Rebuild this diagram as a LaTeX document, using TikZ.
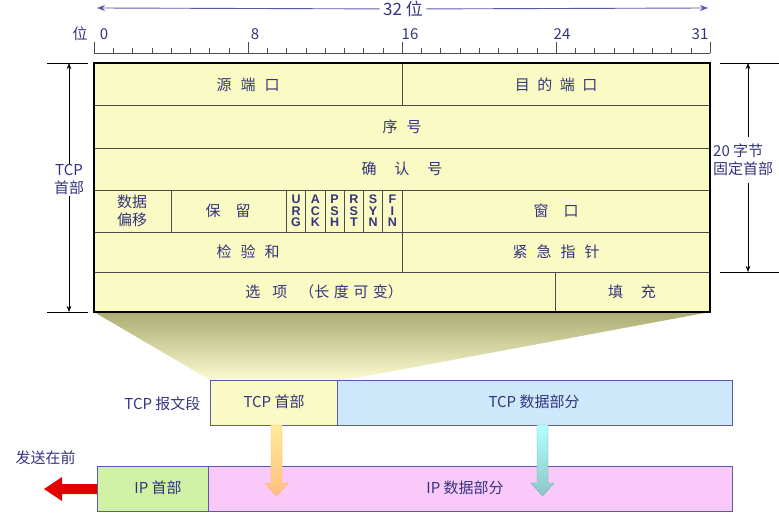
\documentclass[tikz,border=0pt]{standalone}
\usepackage{fontspec}
\setmainfont{Noto Sans CJK SC}
\newfontfamily\flagfont{Liberation Sans}
\usetikzlibrary{arrows.meta}
\definecolor{tx}{HTML}{34347E}
\definecolor{yel}{HTML}{FAFAC4}
\definecolor{bl}{HTML}{CDE8FA}
\definecolor{gr}{HTML}{CFF2A6}
\definecolor{pk}{HTML}{F9C9F9}
\definecolor{bd}{HTML}{5A5AAA}
\begin{document}
\begin{tikzpicture}[x=1pt,y=-1pt,
  lbl/.style={text=tx,font=\fontsize{15}{18}\selectfont},
  fl/.style={text=tx,font=\flagfont\bfseries\fontsize{12.5}{11.5}\selectfont,align=center,inner sep=0pt},
  cell/.style={draw=black!70,line width=0.6pt},
  seg/.style={draw=bd,line width=0.9pt},
  dim/.style={draw=black,line width=0.5pt}]
\useasboundingbox (0,0) rectangle (779,526);
% trapezoid
\shade[top color=yellow!40!black!55,bottom color=yel!80] (94,312) -- (710,312) -- (345,380) -- (210,380) -- cycle;
% main table
\fill[yel] (94,63) rectangle (710,312);
\foreach \y in {105,148,190,232,272} \draw[cell] (94,\y) -- (710,\y);
\draw[cell] (402,63) -- (402,105);
\draw[cell] (402,190) -- (402,272);
\draw[cell] (171,190) -- (171,232);
\foreach \x in {286.5,305.75,325,344.25,363.5,382.75} \draw[cell] (\x,190) -- (\x,232);
\draw[cell] (555,272) -- (555,312);
\draw[line width=1.6pt] (94,63) rectangle (710,312);
\node[lbl] (src) at (248,85) {源\hspace{0.6em}端\hspace{0.6em}口};
\node[lbl] (dst) at (556,85) {目\hspace{0.5em}的\hspace{0.5em}端\hspace{0.5em}口};
\node[lbl] (seq) at (402,127) {序\hspace{0.6em}号};
\node[lbl] (ack) at (402,169) {确\hspace{1.2em}认\hspace{1.2em}号};
\node[lbl,align=center,font=\fontsize{15}{18}\selectfont] (off) at (132,211) {数据\\偏移};
\node[lbl] (res) at (228,211) {保\hspace{1em}留};
\node[fl] (f1) at (296.1,211) {U\\R\\G};
\node[fl] (f2) at (315.4,211) {A\\C\\K};
\node[fl] (f3) at (334.6,211) {P\\S\\H};
\node[fl] (f4) at (353.9,211) {R\\S\\T};
\node[fl] (f5) at (373.1,211) {S\\Y\\N};
\node[fl] (f6) at (392.4,211) {F\\I\\N};
\node[lbl] (win) at (556,211) {窗\hspace{1em}口};
\node[lbl] (chk) at (248,252) {检\hspace{0.6em}验\hspace{0.6em}和};
\node[lbl] (urg) at (556,252) {紧\hspace{0.6em}急\hspace{0.6em}指\hspace{0.6em}针};
\node[lbl] (opt) at (324,292) {选\hspace{0.8em}项\hspace{0.8em}（长\hspace{0.3em}度\hspace{0.3em}可\hspace{0.3em}变）};
\node[lbl] (pad) at (632,292) {填\hspace{1.2em}充};
% ruler
\draw[black!70,line width=0.6pt] (94,53) -- (710,53);
\foreach \i in {0,...,32} \draw[black!70] ({94+\i*19.25},53) -- ({94+\i*19.25},48);
\foreach \i in {0,8,16,24,32} \draw[black!70] ({94+\i*19.25},53) -- ({94+\i*19.25},42);
\node[lbl] (wei) at (80,34) {位};
\node[lbl] (b0) at (104,34) {0};
\node[lbl] (b8) at (255,34) {8};
\node[lbl] (b16) at (410,34) {16};
\node[lbl] (b24) at (562,34) {24};
\node[lbl] (b31) at (700,34) {31};
\node[lbl,font=\fontsize{17}{19}\selectfont] (w32) at (403,9) {32 位};
\coordinate (la) at (97,8); \coordinate (ra) at (708,8);
\draw[bd,line width=0.9pt,-{Stealth[length=8pt]}] (w32) -- (ra);
\draw[bd,line width=0.9pt,-{Stealth[length=8pt]}] (w32) -- (la);
% left dimension
\draw[dim] (47,63) -- (88,63); \draw[dim] (47,312) -- (88,312);
\node[lbl,align=center,fill=white,inner sep=1pt] (tcph) at (69,180) {TCP\\首部};
\coordinate (lt) at (69,63); \coordinate (lb) at (69,312);
\draw[dim,-{Stealth[length=6pt]}] (tcph) -- (lt);
\draw[dim,-{Stealth[length=6pt]}] (tcph) -- (lb);
% right dimension
\draw[dim] (720,63) -- (779,63); \draw[dim] (720,272) -- (779,272);
\node[lbl,align=left,fill=white,inner sep=1pt,anchor=west] (twenty) at (712,160) {20 字节\\固定首部};
\coordinate (rt) at (748,63); \coordinate (rb) at (748,272);
\draw[dim,-{Stealth[length=6pt]}] (748,137) -- (rt);
\draw[dim,-{Stealth[length=6pt]}] (748,183) -- (rb);
% TCP segment
\node[lbl,anchor=east] (tcpseg) at (204,404) {TCP 报文段};
\filldraw[seg,fill=yel] (210,380) rectangle (337,425);
\filldraw[seg,fill=bl] (337,380) rectangle (732,425);
\node[lbl] (th) at (274,402) {TCP 首部};
\node[lbl] (td) at (534,402) {TCP 数据部分};
% IP datagram
\filldraw[seg,fill=gr] (97,466) rectangle (208,511);
\filldraw[seg,fill=pk] (208,466) rectangle (732,511);
\node[lbl] (ih) at (158,488) {IP 首部};
\node[lbl] (id) at (465,488) {IP 数据部分};
\node[lbl,anchor=west] (send) at (12,458) {发送在前};
% red arrow
\fill[red!90!black] (97,484) -- (62,484) -- (62,477) -- (44,489) -- (62,501) -- (62,494) -- (97,494) -- cycle;
% down arrows
\shade[top color=yellow!60!orange!40,bottom color=orange!50] (271,425) -- (282,425) -- (282,483) -- (288,483) -- (276.5,496) -- (265,483) -- (271,483) -- cycle;
\draw[orange!60,line width=0.4pt] (271,425) -- (282,425) -- (282,483) -- (288,483) -- (276.5,496) -- (265,483) -- (271,483) -- cycle;
\shade[top color=cyan!30,bottom color=teal!45] (537,425) -- (548,425) -- (548,483) -- (554,483) -- (542.5,496) -- (531,483) -- (537,483) -- cycle;
\draw[teal!60,line width=0.4pt] (537,425) -- (548,425) -- (548,483) -- (554,483) -- (542.5,496) -- (531,483) -- (537,483) -- cycle;
\end{tikzpicture}
\end{document}
